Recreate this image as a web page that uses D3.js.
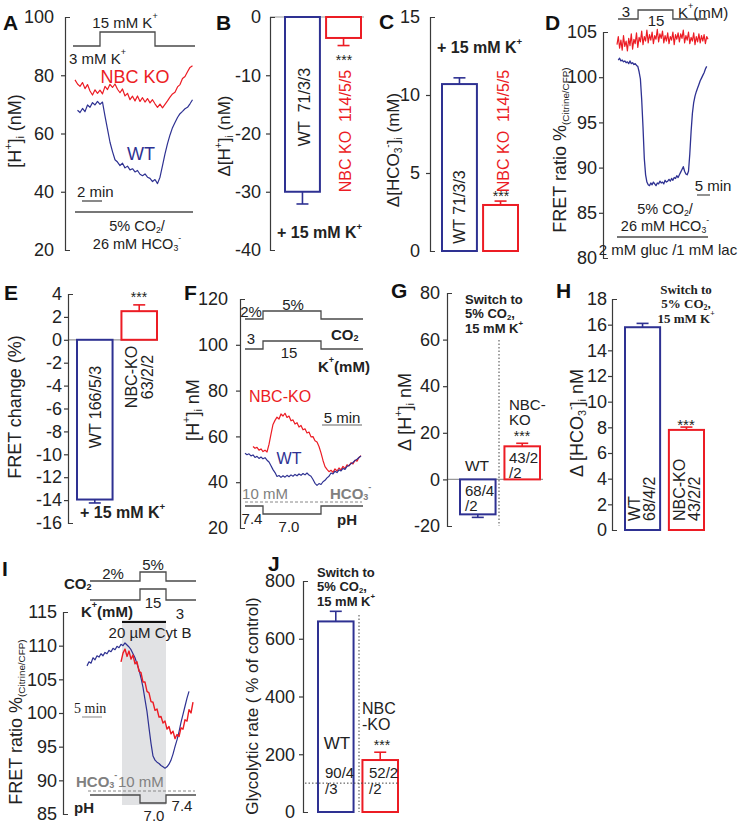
<!DOCTYPE html>
<html><head><meta charset="utf-8">
<script src="https://cdnjs.cloudflare.com/ajax/libs/d3/7.8.5/d3.min.js"></script>
<style>body{margin:0;background:#fff} svg{display:block}</style>
</head><body><svg id="c" width="745" height="824"></svg>
<script>
// ---------------- DATA ----------------
const groups = ["WT", "NBC-KO"];
// Panel A: [H+]i traces (nM), samples every 0.25 min
const aNbcKO = [78.4,77.0,76.2,77.5,75.4,76.8,74.6,73.2,75.0,73.8,74.9,73.6,76.2,75.1,76.9,75.8,77.0,75.2,74.0,75.3,72.9,73.8,71.6,72.8,71.2,72.9,71.0,72.3,70.8,72.0,70.5,71.6,70.2,69.0,70.1,68.8,70.0,71.2,72.5,73.6,74.2,76.0,76.8,78.9,79.6,81.2,82.7,83.3];
const aWT = [68.0,67.2,68.6,67.5,69.8,69.0,70.6,69.8,71.0,70.0,70.8,66.0,61.5,57.0,53.8,51.0,50.2,49.0,49.8,48.2,48.8,47.5,47.9,46.8,47.3,46.0,45.5,46.1,45.0,44.6,43.5,44.2,42.8,45.0,49.0,53.0,56.5,59.5,62.0,63.8,65.5,66.8,67.6,68.5,69.0,70.2,71.6];
const aKTimes = [-0.2, 2.5, 8.0, 12.0];
const kLevels = [3, 15, 3];
// Panel B: delta [H+]i (nM)
const bMean = [-30.0, -3.6];
const bSem = [2.1, 1.3];
// Panel C: delta [HCO3-]i (mM)
const cMean = [10.7, 2.95];
const cSem = [0.4, 0.25];
// Panel D: FRET ratio traces, samples every 0.5 min
const dWT = [101.9,102.1,101.8,101.9,101.7,101.8,101.6,101.7,101.5,101.8,101.5,101.6,101.4,101.5,101.3,101.2,100.6,99.8,97.5,94.5,91.0,89.2,88.4,88.1,88.0,88.3,88.1,88.4,88.2,88.0,88.3,88.2,88.5,88.3,88.4,88.2,88.6,88.4,88.5,88.7,88.5,88.8,88.6,88.9,88.8,89.1,88.9,89.2,89.5,89.8,90.1,89.6,89.3,89.2,89.6,91.5,94.0,96.0,97.2,97.9,98.4,98.8,99.2,99.6,99.9,100.2,100.5,100.9,101.2];
const dNbcKO = [103.6,104.5,103.2,104.1,103.0,104.6,103.4,104.0,102.9,104.3,103.5,104.8,103.1,104.2,103.7,104.9,103.3,104.4,103.9,105.1,103.6,104.5,104.0,105.2,103.8,104.7,104.1,105.0,103.7,104.6,104.2,105.3,103.9,104.8,104.3,105.1,103.8,104.6,104.0,104.9,103.7,104.5,104.1,105.0,103.6,104.7,104.2,104.9,103.9,104.8,104.3,105.2,103.8,104.6,104.1,105.0,103.7,104.4,104.0,104.9,103.6,104.5,103.9,104.8,103.8,104.6,104.0,104.7,103.7,104.5,104.2];
const dKTimes = [0.4, 8.1, 21.5, 34.6];
// Panel E: FRET change (%)
const eMean = [-13.95, 2.5];
const eSem = [0.3, 0.55];
// Panel F: [H+]i traces (nM), samples every 0.25 min
const fNbcKO = [55.6,54.8,55.2,54.0,54.5,53.4,54.0,53.2,56.5,61.0,65.2,67.0,68.4,67.6,69.8,68.9,70.1,68.3,68.9,66.8,67.2,65.4,66.0,64.1,64.8,62.9,63.3,61.5,61.9,59.8,59.9,58.1,57.6,55.6,52.8,49.5,46.8,45.6,44.6,45.2,44.3,45.8,44.9,46.2,45.4,46.9,46.0,47.6,47.1,48.5,48.0,49.6,49.2,50.8,51.6];
const fWT = [52.6,52.0,52.4,51.5,51.9,50.8,51.3,50.4,51.0,50.2,50.7,49.6,48.8,47.2,45.5,44.2,42.5,42.9,42.1,42.8,42.2,43.0,42.4,43.2,42.6,43.4,42.8,43.6,43.0,43.8,43.2,44.0,43.1,42.6,41.2,39.5,38.6,39.4,39.0,40.2,40.8,41.9,42.6,44.0,43.6,44.8,44.2,45.4,44.9,46.0,45.6,46.9,47.3,48.1,48.6,49.5,50.0,50.8,51.4];
const fTimes = [0, 2.25, 9.5, 14.75];
const co2Levels = [2, 5, 2];
const phLevels = [7.4, 7.0, 7.4];
// Panel G: delta [H+]i (nM)
const gMean = [-15.0, 14.2];
const gSem = [1.3, 1.3];
// Panel H: delta [HCO3-]i
const hMean = [15.8, 7.8];
const hSem = [0.3, 0.22];
// Panel I: FRET ratio traces, samples every 0.5 min
const iWT = [107.0,107.6,107.4,108.2,107.9,108.5,108.3,108.8,108.5,109.0,108.8,109.3,109.1,109.6,109.4,109.9,109.7,110.2,110.0,110.4,110.1,109.8,109.4,108.8,108.2,107.3,106.4,105.2,103.8,102.0,100.2,97.8,95.5,93.6,93.0,92.7,92.5,92.2,92.0,91.8,92.0,92.4,93.0,93.9,95.0,96.0,97.2,98.6,99.8,101.0,102.2,103.2];
const iNbcKO = [107.6,108.9,109.5,108.4,109.2,108.0,108.6,107.3,107.6,106.2,106.0,104.6,104.6,103.2,103.0,101.7,101.6,100.4,100.6,99.4,99.5,98.5,98.8,97.6,98.0,96.9,97.3,96.2,96.8,96.5,97.8,97.6,99.0,98.8,100.5,100.0,101.6];
const iTimes = [0.75, 13.25, 19.75, 27.25];
const iCytB = [8.75, 19.75];
// Panel J: glycolytic rate (% of control)
const jMean = [660, 180];
const jSem = [35, 27];

// ---------------- HELPERS ----------------
const FONT = "'Liberation Sans', Arial, Helvetica, sans-serif";
const SERIF = "'Liberation Serif', 'Times New Roman', serif";
const blue = "#2e3192", red = "#ec1c24", axisC = "#3a3a3a", stimC = "#4a4a4a", grayT = "#808080";
const svg = d3.select("#c").attr("font-family", FONT);

function yAxis(g, x, scale, ticks, gap = 8) {
  const ax = g.append("g").attr("transform", `translate(${x},0)`)
    .call(d3.axisLeft(scale).tickValues(ticks).tickFormat(d => String(d))
      .tickSizeInner(4).tickSizeOuter(-5).tickPadding(Math.max(1, gap - 4)));
  ax.attr("font-family", FONT).attr("font-size", 18);
  ax.select(".domain").attr("stroke", axisC).attr("stroke-width", 1.2);
  const d = scale.domain();
  ax.selectAll(".tick line").attr("stroke", axisC).attr("stroke-width", 1.2)
    .attr("x2", v => (v === d[0] || v === d[1]) ? 0 : -4);
  ax.selectAll(".tick text").attr("fill", "#222");
  return ax;
}
function rt(g, x, y, parts, o = {}) {
  const fs = o.size || 15;
  const t = g.append("text").attr("x", x).attr("y", y).attr("font-size", fs)
    .attr("fill", o.fill || "#222").attr("text-anchor", o.anchor || "start")
    .attr("dominant-baseline", "central").style("white-space", "pre");
  if (o.weight) t.attr("font-weight", o.weight);
  if (o.family) t.attr("font-family", o.family);
  if (o.rotate) t.attr("transform", `rotate(${o.rotate},${x},${y})`);
  let cur = 0;
  parts.forEach(p => {
    const [s, k] = Array.isArray(p) ? p : [p, "n"];
    const target = k === "sup" ? -fs * 0.38 : k === "sub" ? fs * 0.28 : 0;
    const ts = t.append("tspan").text(s).attr("dy", target - cur);
    if (k !== "n") ts.attr("font-size", fs * (o.small || 0.6));
    cur = target;
  });
  return t;
}
function letter(x, y, s) {
  svg.append("text").attr("x", x).attr("y", y).attr("font-size", 21).attr("font-weight", "bold")
    .attr("dominant-baseline", "central").attr("fill", "#111").text(s);
}
function trace(g, xs, ys, vals, t0, dt, color, w = 1.2) {
  g.append("path").datum(vals).attr("fill", "none").attr("stroke", color).attr("stroke-width", w)
    .attr("stroke-linejoin", "round")
    .attr("d", d3.line().x((d, i) => xs(t0 + i * dt)).y(d => ys(d)));
}
function stepPath(g, xs, times, levels, ls, color = stimC, w = 1.3) {
  const pts = [];
  levels.forEach((lv, i) => { pts.push([xs(times[i]), ls(lv)]); pts.push([xs(times[i + 1]), ls(lv)]); });
  g.append("path").attr("d", d3.line()(pts)).attr("fill", "none").attr("stroke", color).attr("stroke-width", w);
}
function hline(g, x1, x2, y, color = stimC, w = 1.3, dash = null) {
  const l = g.append("line").attr("x1", x1).attr("x2", x2).attr("y1", y).attr("y2", y)
    .attr("stroke", color).attr("stroke-width", w);
  if (dash) l.attr("stroke-dasharray", dash);
}
function vline(g, x, y1, y2, color, w, dash) {
  const l = g.append("line").attr("x1", x).attr("x2", x).attr("y1", y1).attr("y2", y2)
    .attr("stroke", color).attr("stroke-width", w);
  if (dash) l.attr("stroke-dasharray", dash);
}
function bars(g, xb, ys, means, sems) {
  const colors = [blue, red];
  groups.forEach((c, i) => {
    const m = means[i], s = sems[i], x = xb(c), w = xb.bandwidth();
    g.append("rect").attr("x", x).attr("y", ys(Math.max(0, m))).attr("width", w)
      .attr("height", Math.abs(ys(m) - ys(0))).attr("fill", "#fff")
      .attr("stroke", colors[i]).attr("stroke-width", 2);
    const e = m + Math.sign(m) * s, cx = x + w / 2;
    g.append("line").attr("x1", cx).attr("x2", cx).attr("y1", ys(m)).attr("y2", ys(e))
      .attr("stroke", colors[i]).attr("stroke-width", 1.6);
    g.append("line").attr("x1", cx - 6).attr("x2", cx + 6).attr("y1", ys(e)).attr("y2", ys(e))
      .attr("stroke", colors[i]).attr("stroke-width", 1.6);
  });
}
const band = (r, p) => d3.scaleBand().domain(groups).range(r).paddingInner(p).paddingOuter(0);

// ---------------- PANEL A ----------------
{
  const g = svg.append("g");
  const y = d3.scaleLinear().domain([20, 100]).range([250, 17]);
  const x = d3.scaleLinear().domain([0, 12]).range([75, 195]);
  const k = d3.scaleLinear().domain([3, 15]).range([46, 32]);
  yAxis(g, 65, y, [20, 40, 60, 80, 100], 11);
  stepPath(g, x, aKTimes, kLevels, k);
  trace(g, x, y, aNbcKO, 0, 0.25, red);
  trace(g, x, y, aWT, 0.25, 0.25, blue);
  rt(g, 125, 22, ["15 mM K", ["+", "sup"]], { anchor: "middle", size: 15 });
  rt(g, 69, 58, ["3 mM K", ["+", "sup"]], { size: 15 });
  rt(g, 135, 77, ["NBC KO"], { anchor: "middle", size: 18, fill: red });
  rt(g, 141, 154, ["WT"], { anchor: "middle", size: 18, fill: blue });
  rt(g, 77, 191, ["2 min"], { size: 15 });
  hline(g, 82, 82 + x(2) - x(0), 201, stimC, 1.3);
  hline(g, 75, 193, 212, stimC, 1.3);
  rt(g, 137, 226, ["5% CO", ["2", "sub"], "/"], { anchor: "middle", size: 14.5 });
  rt(g, 137, 244, ["26 mM HCO", ["3", "sub"], ["-", "sup"]], { anchor: "middle", size: 14.5 });
  rt(g, 15, 131, ["[H", ["+", "sup"], "]", ["i", "sub"], " (nM)"], { anchor: "middle", size: 18, rotate: -90 });
  letter(3, 22, "A");
}
// ---------------- PANEL B ----------------
{
  const g = svg.append("g");
  const y = d3.scaleLinear().domain([-40, 0]).range([250, 17]);
  const xb = band([285, 361], 0.15);
  hline(g, 270, 364, y(0), "#999", 1.2);
  bars(g, xb, y, bMean, bSem);
  yAxis(g, 270, y, [-40, -30, -20, -10, 0], 9);
  rt(g, 344, 60, ["***"], { anchor: "middle", size: 14 });
  rt(g, 304, 107, ["WT\u00a0\u00a071/3/3"], { anchor: "middle", size: 16, rotate: -90 });
  rt(g, 345, 131, ["NBC KO\u00a0\u00a0114/5/5"], { anchor: "middle", size: 16, rotate: -90, fill: red });
  rt(g, 277, 232, ["+ 15 mM K", ["+", "sup"]], { size: 16, weight: "bold" });
  rt(g, 224, 136, ["\u0394[H", ["+", "sup"], "]", ["i", "sub"], " (nM)"], { anchor: "middle", size: 17, rotate: -90 });
  letter(216, 22, "B");
}
// ---------------- PANEL C ----------------
{
  const g = svg.append("g");
  const y = d3.scaleLinear().domain([0, 15]).range([251, 17]);
  const xb = band([442, 518], 0.15);
  bars(g, xb, y, cMean, cSem);
  yAxis(g, 430, y, [0, 5, 10, 15], 10);
  rt(g, 437, 47, ["+ 15 mM K", ["+", "sup"]], { size: 16, weight: "bold" });
  rt(g, 501, 196, ["***"], { anchor: "middle", size: 14 });
  rt(g, 459, 207, ["WT 71/3/3"], { anchor: "middle", size: 16, rotate: -90 });
  rt(g, 503, 131, ["NBC KO\u00a0\u00a0114/5/5"], { anchor: "middle", size: 16, rotate: -90, fill: red });
  rt(g, 393, 150, ["\u0394[HCO", ["3", "sub"], ["-", "sup"], "]", ["i", "sub"], " (mM)"], { anchor: "middle", size: 17, rotate: -90 });
  letter(379, 21, "C");
}
// ---------------- PANEL D ----------------
{
  const g = svg.append("g");
  const y = d3.scaleLinear().domain([80, 105]).range([258, 32]);
  const x = d3.scaleLinear().domain([0, 35]).range([617, 708]);
  const k = d3.scaleLinear().domain([3, 15]).range([19, 10]);
  yAxis(g, 603, y, [80, 85, 90, 95, 100, 105], 6);
  stepPath(g, x, dKTimes, kLevels, k);
  trace(g, x, y, dNbcKO, 0, 0.5, red, 1.2);
  trace(g, x, y, dWT, 0.5, 0.5, blue, 1.3);
  rt(g, 626, 11, ["3"], { anchor: "middle", size: 15 });
  rt(g, 656, 20, ["15"], { anchor: "middle", size: 15 });
  rt(g, 678, 12, ["K", ["+", "sup"], "(mM)"], { size: 15 });
  rt(g, 713, 185, ["5 min"], { anchor: "middle", size: 15 });
  hline(g, 697, 697 + x(5) - x(0), 195, stimC, 1.2);
  rt(g, 665, 209, ["5% CO", ["2", "sub"], "/"], { anchor: "middle", size: 14.5 });
  rt(g, 665, 226, ["26 mM HCO", ["3", "sub"], ["-", "sup"]], { anchor: "middle", size: 14.5 });
  hline(g, 617, 708, 237, stimC, 1.3);
  rt(g, 668, 249, ["2 mM gluc /1 mM lac"], { anchor: "middle", size: 15 });
  rt(g, 560, 150, ["FRET ratio %", ["(Citrine/CFP)", "sub"]], { anchor: "middle", size: 18, rotate: -90, small: 0.55 });
  letter(545, 22, "D");
}
// ---------------- PANEL E ----------------
{
  const g = svg.append("g");
  const y = d3.scaleLinear().domain([-16, 4]).range([523, 294]);
  const xb = band([77, 157], 0.2);
  hline(g, 68, 158, y(0), "#999", 1.2);
  bars(g, xb, y, eMean, eSem);
  yAxis(g, 68, y, d3.range(-16, 5, 2), 6);
  rt(g, 139, 297, ["***"], { anchor: "middle", size: 14 });
  rt(g, 95, 407, ["WT 166/5/3"], { anchor: "middle", size: 16, rotate: -90 });
  rt(g, 131, 377, ["NBC-KO"], { anchor: "middle", size: 16, rotate: -90 });
  rt(g, 147, 377, ["63/2/2"], { anchor: "middle", size: 16, rotate: -90 });
  rt(g, 80, 512, ["+ 15 mM K", ["+", "sup"]], { size: 16, weight: "bold" });
  rt(g, 15, 407, ["FRET change (%)"], { anchor: "middle", size: 18, rotate: -90 });
  letter(4, 292, "E");
}
// ---------------- PANEL F ----------------
{
  const g = svg.append("g");
  const y = d3.scaleLinear().domain([20, 120]).range([528, 299]);
  const x = d3.scaleLinear().domain([0, 14.75]).range([245, 363]);
  yAxis(g, 240, y, [20, 40, 60, 80, 100, 120], 12);
  stepPath(g, x, fTimes, co2Levels, d3.scaleLinear().domain([2, 5]).range([319, 311]));
  stepPath(g, x, fTimes, kLevels, d3.scaleLinear().domain([3, 15]).range([349, 341]));
  stepPath(g, x, fTimes, phLevels, d3.scaleLinear().domain([7.4, 7.0]).range([506, 514]));
  hline(g, 245, 362, 502, "#888", 1, "3,2");
  trace(g, x, y, fNbcKO, 1.0, 0.25, red);
  trace(g, x, y, fWT, 0, 0.25, blue);
  rt(g, 251, 311, ["2%"], { anchor: "middle", size: 15 });
  rt(g, 293, 304, ["5%"], { anchor: "middle", size: 15 });
  rt(g, 331, 334, ["CO", ["2", "sub"]], { size: 15, weight: "bold" });
  rt(g, 251, 338, ["3"], { anchor: "middle", size: 15 });
  rt(g, 289, 352, ["15"], { anchor: "middle", size: 15 });
  rt(g, 318, 366, ["K", ["+", "sup"], "(mM)"], { size: 15, weight: "bold" });
  rt(g, 280, 396, ["NBC-KO"], { anchor: "middle", size: 16, fill: red });
  rt(g, 342, 417, ["5 min"], { anchor: "middle", size: 15 });
  hline(g, 322, 322 + x(5) - x(0), 425, "#999", 1.3);
  rt(g, 289, 458, ["WT"], { anchor: "middle", size: 16, fill: blue });
  rt(g, 265, 493, ["10 mM"], { anchor: "middle", size: 15, fill: grayT });
  rt(g, 330, 493, ["HCO", ["3", "sub"], ["-", "sup"]], { size: 15, fill: grayT, weight: "bold" });
  rt(g, 252, 518, ["7.4"], { anchor: "middle", size: 15 });
  rt(g, 289, 526, ["7.0"], { anchor: "middle", size: 15 });
  rt(g, 337, 519, ["pH"], { size: 15, weight: "bold" });
  rt(g, 193, 410, ["[H", ["+", "sup"], "]", ["i", "sub"], " nM"], { anchor: "middle", size: 18, rotate: -90 });
  letter(184, 292, "F");
}
// ---------------- PANEL G ----------------
{
  const g = svg.append("g");
  const y = d3.scaleLinear().domain([-20, 80]).range([526, 293]);
  const xb = band([460, 540], 0.2);
  hline(g, 447, 543, y(0), "#999", 1.2);
  vline(g, 499, 340, 526, "#444", 1, "1.5,2");
  bars(g, xb, y, gMean, gSem);
  yAxis(g, 447, y, [-20, 0, 20, 40, 60, 80], 7);
  rt(g, 465, 299, ["Switch to"], { size: 13, weight: "bold" });
  rt(g, 465, 313, ["5% CO", ["2", "sub"], ","], { size: 13, weight: "bold" });
  rt(g, 465, 328, ["15 mM K", ["+", "sup"]], { size: 13, weight: "bold" });
  rt(g, 477, 465, ["WT"], { anchor: "middle", size: 15.5 });
  rt(g, 465, 490, ["68/4"], { size: 15 });
  rt(g, 465, 505, ["/2"], { size: 15 });
  rt(g, 509, 404, ["NBC-"], { size: 15 });
  rt(g, 509, 419, ["KO"], { size: 15 });
  rt(g, 522, 436, ["***"], { anchor: "middle", size: 14 });
  rt(g, 509, 457, ["43/2"], { size: 15 });
  rt(g, 509, 472, ["/2"], { size: 15 });
  rt(g, 405, 412, ["\u0394 [H", ["+", "sup"], "]", ["i", "sub"], " nM"], { anchor: "middle", size: 18, rotate: -90 });
  letter(391, 290, "G");
}
// ---------------- PANEL H ----------------
{
  const g = svg.append("g");
  const y = d3.scaleLinear().domain([0, 18]).range([530, 299]);
  const xb = band([625, 704], 0.2);
  bars(g, xb, y, hMean, hSem);
  yAxis(g, 612, y, d3.range(0, 19, 2), 5);
  rt(g, 686, 289, ["Switch to"], { anchor: "middle", size: 13, weight: "bold", family: SERIF });
  rt(g, 686, 303, ["5% CO", ["2", "sub"], ","], { anchor: "middle", size: 13, weight: "bold", family: SERIF });
  rt(g, 686, 318, ["15 mM K", ["+", "sup"]], { anchor: "middle", size: 13, weight: "bold", family: SERIF });
  rt(g, 686, 424, ["***"], { anchor: "middle", size: 15 });
  rt(g, 634, 521, ["WT"], { size: 16, rotate: -90 });
  rt(g, 649, 521, ["68/4/2"], { size: 16, rotate: -90 });
  rt(g, 679, 521, ["NBC-KO"], { size: 16, rotate: -90 });
  rt(g, 694, 521, ["43/2/2"], { size: 16, rotate: -90 });
  rt(g, 577, 423, ["\u0394 [HCO", ["3", "sub"], ["-", "sup"], "]", ["i", "sub"], " nM"], { anchor: "middle", size: 18, rotate: -90 });
  letter(556, 290, "H");
}
// ---------------- PANEL I ----------------
{
  const g = svg.append("g");
  const y = d3.scaleLinear().domain([85, 115]).range([814, 612]);
  const x = d3.scaleLinear().domain([0, 26]).range([87, 191]);
  g.append("rect").attr("x", x(iCytB[0])).attr("y", 620).attr("width", x(iCytB[1]) - x(iCytB[0]))
    .attr("height", 185).attr("fill", "#e1e2e4");
  yAxis(g, 63, y, [85, 90, 95, 100, 105, 110, 115], 6);
  stepPath(g, x, iTimes, co2Levels, d3.scaleLinear().domain([2, 5]).range([581, 572]));
  stepPath(g, x, iTimes, kLevels, d3.scaleLinear().domain([3, 15]).range([600, 589]));
  stepPath(g, x, iTimes, phLevels, d3.scaleLinear().domain([7.4, 7.0]).range([795, 803]));
  hline(g, 88, 195, 791, "#888", 1, "3,2");
  hline(g, x(iCytB[0]), x(iCytB[1]), 622, "#111", 2);
  trace(g, x, y, iWT, 0, 0.5, blue);
  trace(g, x, y, iNbcKO, 8.5, 0.5, red, 1.4);
  rt(g, 113, 573, ["2%"], { anchor: "middle", size: 15 });
  rt(g, 153, 564, ["5%"], { anchor: "middle", size: 15 });
  rt(g, 64, 583, ["CO", ["2", "sub"]], { size: 15, weight: "bold" });
  rt(g, 153, 602, ["15"], { anchor: "middle", size: 15 });
  rt(g, 180, 613, ["3"], { anchor: "middle", size: 15 });
  rt(g, 81, 611, ["K", ["+", "sup"], "(mM)"], { size: 15, weight: "bold" });
  rt(g, 150, 632, ["20 \u00b5M Cyt B"], { anchor: "middle", size: 15 });
  rt(g, 74, 708, ["5 min"], { size: 14, family: SERIF });
  hline(g, 82, 82 + x(5) - x(0), 717, "#999", 1.2);
  rt(g, 76, 781, ["HCO", ["3", "sub"], ["-", "sup"]], { size: 15, fill: grayT, weight: "bold" });
  rt(g, 118, 781, ["10 mM"], { size: 15, fill: grayT });
  rt(g, 74, 807, ["pH"], { size: 15, weight: "bold" });
  rt(g, 154, 815, ["7.0"], { anchor: "middle", size: 15 });
  rt(g, 182, 805, ["7.4"], { anchor: "middle", size: 15 });
  rt(g, 16, 722, ["FRET ratio %", ["(Citrine/CFP)", "sub"]], { anchor: "middle", size: 18, rotate: -90, small: 0.55 });
  letter(2, 568, "I");
}
// ---------------- PANEL J ----------------
{
  const g = svg.append("g");
  const y = d3.scaleLinear().domain([0, 800]).range([812, 581]);
  const xb = band([318, 398], 0.2);
  bars(g, xb, y, jMean, jSem);
  hline(g, 305, 398, y(100), "#444", 1, "1.5,2");
  vline(g, 359, 615, 812, "#444", 1, "1.5,2");
  yAxis(g, 303, y, [0, 200, 400, 600, 800], 8);
  rt(g, 317, 572, ["Switch to"], { size: 13, weight: "bold" });
  rt(g, 317, 586, ["5% CO", ["2", "sub"], ","], { size: 13, weight: "bold" });
  rt(g, 317, 601, ["15 mM K", ["+", "sup"]], { size: 13, weight: "bold" });
  rt(g, 337, 743, ["WT"], { anchor: "middle", size: 17 });
  rt(g, 325, 772, ["90/4"], { size: 15 });
  rt(g, 325, 788, ["/3"], { size: 15 });
  rt(g, 362, 708, ["NBC"], { size: 16 });
  rt(g, 362, 724, ["-KO"], { size: 16 });
  rt(g, 382, 745, ["***"], { anchor: "middle", size: 14 });
  rt(g, 369, 772, ["52/2"], { size: 15 });
  rt(g, 369, 788, ["/2"], { size: 15 });
  rt(g, 252, 706, ["Glycolytic rate ( % of control)"], { anchor: "middle", size: 17, rotate: -90 });
  letter(268, 563, "J");
}
</script></body></html>
